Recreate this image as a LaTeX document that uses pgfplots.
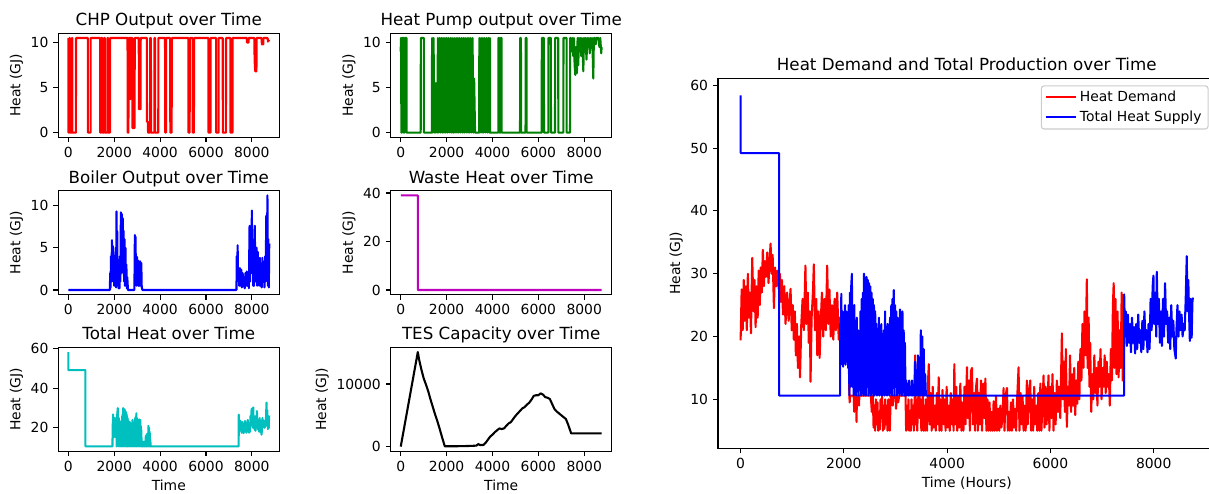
\documentclass[border=0pt]{standalone}
\usepackage{pgfplots}
\usepackage{pgfplotstable}
\usepackage{fontspec}
\setmainfont{DejaVu Sans}
\pgfplotsset{compat=1.18}
\newcommand\titlefont{\fontsize{16.7pt}{20pt}\selectfont}
\newcommand\tickfont{\fontsize{13.9pt}{16pt}\selectfont}
\definecolor{mplgreen}{rgb}{0,0.5,0}
\definecolor{mplmag}{rgb}{0.75,0,0.75}
\definecolor{mplcyan}{rgb}{0,0.75,0.75}

\pgfplotsset{
  mpl/.style={
    scale only axis,
    axis line style={line width=1.1pt},
    every tick/.style={line width=1.1pt, black},
    tick align=outside,
    major tick length=4.86pt,
    xtick pos=left, ytick pos=left,
    ticklabel style={font=\tickfont, inner sep=0pt},
    xticklabel shift=4.86pt, yticklabel shift=4.86pt,
    /pgf/number format/assume math mode=true,
    /pgf/number format/1000 sep={},
    scaled ticks=false,
    xmin=-438, xmax=9197,
    xtick={0,2000,4000,6000,8000},
    title style={font=\titlefont, at={(0.5,1)}, anchor=base, yshift=1.5pt, inner sep=0pt},
    label style={font=\tickfont},
    xlabel style={yshift=-5pt},
    ylabel style={yshift=4pt},
    every axis plot/.append style={line width=2.08pt, line join=round},
  },
  small/.style={mpl, width=221pt, height=104pt},
}

% heat demand (hours, GJ); the part after 7420 h lies under the supply line
\pgfplotstableread{
x y
0 19.4
20 27.5
40 21
60 29
80 22.5
100 28
120 21
140 30
160 23
180 27
200 20.5
225 32.5
250 24
270 29
290 21.5
310 28
330 23
350 30.5
370 25
390 31
410 27
430 33.8
450 28
470 32
490 29.5
516 33.4
540 28.5
560 32
580 34.8
600 30
620 33
645 24.5
665 31
690 28
710 30.5
740 27.5
760 30
780 25.5
800 29
820 23.5
845 28
870 22
900 27
930 22.5
967 27.6
990 21
1010 25
1030 19.5
1050 24
1070 17
1090 22
1110 15
1130 20
1150 13.5
1175 22
1200 26
1225 21
1255 31.3
1275 22
1300 27
1320 19
1340 24
1354 12.8
1375 23
1400 27
1418 31.5
1440 21
1465 26
1485 17
1510 24
1530 16.6
1550 22
1575 27
1600 20
1625 26
1650 21
1676 31.3
1700 22
1720 27.5
1745 20
1770 25
1795 19.5
1820 26
1845 21
1870 27
1900 19.5
1926 23
1940 18
1990 19
2050 18
2094 17
2106 10.6
2112 9.5
2120 10.6
2190 10.6
2200 8
2214 10.6
2238 10.6
2245 6.4
2252 10.6
2286 10.6
2292 9
2300 10.6
2334 10.6
2382 10.6
2426 10.6
2474 10.6
2522 10.6
2540 8
2560 10.6
2575 5.5
2590 9
2605 5
2620 10
2635 6
2650 9.5
2665 5
2680 8
2695 5.2
2710 10
2725 7
2740 10.5
2755 5
2770 9
2785 5.3
2800 10
2815 6
2830 9
2845 5
2860 10
2875 7
2890 5
2905 10.5
2930 10.6
2945 9
2960 10.6
3000 10.6
3010 8.5
3026 10.6
3050 9.5
3074 10.6
3122 10.6
3170 10.6
3194 10.6
3205 5
3220 9
3235 5.2
3250 10
3265 5
3280 8
3295 5
3310 10
3325 6
3340 9
3355 5
3370 10
3380 17
3392 6
3405 10
3420 5
3440 10
3455 16
3470 7
3485 10
3500 5
3515 9
3530 10.5
3545 5
3560 9
3575 5
3590 10
3600 9
3610 5
3630 13
3645 15.6
3660 6
3680 11
3700 5
3720 12
3740 5.5
3760 9
3780 5
3800 11
3820 6
3836 13.5
3850 5
3870 10
3890 5
3910 11.5
3930 6
3950 10
3970 5
3990 12
4010 5.5
4030 9
4050 5
4070 11
4090 6
4110 10
4125 5
4139 15.6
4155 6
4175 12
4195 5
4215 10.5
4235 5.5
4255 12.5
4275 5
4295 9.5
4315 5
4335 12
4355 6
4384 15.1
4400 7
4420 13
4440 5
4460 14.5
4480 15
4500 6
4520 11
4540 5
4560 12
4578 13.3
4595 5
4615 11
4635 6
4655 13
4675 5
4700 12.5
4720 7
4740 13.3
4760 5
4780 10
4800 5
4820 9.5
4840 5
4860 8
4880 5
4900 9.7
4920 5
4945 10.5
4965 5
4990 8.5
5010 5
5030 9
5050 5.5
5070 7
5093 11.8
5110 5
5130 10.5
5158 11.8
5175 5
5195 8
5215 5
5235 9.5
5255 5
5275 10
5295 5.5
5315 8.5
5335 5
5355 10
5383 15.1
5400 5
5420 11
5440 6
5460 10.5
5480 5
5500 9
5520 5
5544 13
5560 6
5585 11
5609 13
5625 5
5645 10
5665 5
5685 12
5705 6
5725 9
5745 5
5765 11
5785 5
5805 12.5
5825 5
5845 9
5867 13.8
5885 5.5
5905 12
5925 6
5945 10
5963 13.8
5980 5
6000 12
6020 7
6040 14
6060 5
6080 11
6100 6
6125 13
6145 8
6165 12
6190 7
6222 20.5
6240 10
6260 16
6280 8
6300 18
6318 5.6
6340 12
6360 9
6380 17
6400 8
6420 14
6440 9
6460 15
6480 7.5
6500 13
6520 9.3
6540 16
6560 10
6580 18
6600 13
6620 22
6640 15
6660 24
6680 17
6705 29.1
6720 15
6740 23
6755 12
6770 19
6790 8
6810 14
6830 10
6850 17
6870 11
6890 15
6910 9
6930 16
6950 12
6970 18
6990 10
7010 15
7030 12
7050 17
7070 11
7090 16
7110 12
7130 14
7150 9
7170 18
7190 13
7210 25
7225 28.5
7240 15
7260 26
7280 14
7300 24
7320 13.5
7340 21
7360 15
7380 27
7400 13
7414 26.7
}\demand

% total heat supply (hours, GJ)
\pgfplotstableread{
x y
0 58.4
1 49.2
744 49.2
745 10.6
1926 10.6
1928 22
1940 15.5
1950 26.8
1962 16
1974 24
1986 15.2
1998 23
2010 17
2022 25
2034 15.5
2046 24
2058 16
2070 21
2082 15
2094 25
2106 10.6
2118 27
2130 12
2142 28
2155 30
2166 12
2178 24
2190 10.6
2202 25
2214 14
2226 22
2238 10.6
2250 23
2262 13
2274 21
2286 10.6
2298 20
2310 12
2322 24
2334 10.6
2346 26
2358 11
2370 27
2382 10.6
2390 30
2402 11
2414 29
2426 10.6
2438 29.5
2450 12
2462 29
2474 10.6
2486 28.5
2498 11
2510 28
2522 10.6
2534 27
2546 11
2558 26
2570 10.6
2582 25
2594 10.6
2606 24
2618 11
2630 22
2642 10.6
2654 21
2666 11
2678 23
2690 10.6
2702 19
2714 12
2726 22
2738 10.6
2750 18
2762 11
2774 21
2786 10.6
2798 24
2810 11
2822 20
2834 10.6
2846 22
2858 12
2870 19
2882 10.6
2894 23
2906 11
2918 25
2930 10.6
2942 26
2954 12
2966 27.4
2978 10.6
2990 25
3002 12
3014 24
3026 10.6
3038 23
3050 11
3062 22
3074 10.6
3086 24.3
3098 11
3110 23
3122 10.6
3134 24
3146 12
3158 21
3170 10.6
3182 19
3194 10.6
3210 13
3222 10.6
3236 12.5
3250 10.6
3264 13
3278 10.6
3292 12
3306 10.6
3320 13
3334 10.6
3350 12
3365 10.6
3378 16
3392 10.6
3406 14
3420 10.6
3434 17
3448 10.6
3462 15
3476 10.6
3490 21
3504 10.6
3518 20
3532 10.6
3546 18
3560 10.6
3574 14
3588 10.6
7427 10.6
7428 26.7
7445 20
7460 24
7480 18.5
7500 23.5
7520 19
7540 22
7560 17.5
7580 23
7600 19
7620 21.5
7640 17.3
7660 22
7680 18
7700 23.5
7720 19
7740 21
7760 17.5
7780 22.5
7800 18
7820 24
7840 19.5
7860 21
7880 17.5
7900 22
7920 18
7940 26
7960 21
7980 28
7995 29.7
8010 22
8030 27
8050 20
8060 30.3
8080 22
8100 26
8120 19
8140 24
8160 18.5
8180 26
8200 20
8220 28.5
8240 22
8260 24
8280 19
8300 23
8320 18
8340 25
8360 20
8380 22.5
8400 18
8427 16.5
8440 21
8460 25
8480 20
8500 24
8520 21
8540 23.5
8560 20
8580 22
8600 21
8620 26
8640 32.8
8655 24
8670 29
8690 22
8700 19.3
8715 26
8735 19.8
8750 25.5
8759 26.2
}\supply

\pgfplotstableread{
x y
0 10.5
5 0
40 0
45 10.5
70 10.5
75 0
150 0
155 10.5
170 10.5
175 0
330 0
335 10.5
850 10.5
855 0
970 0
975 10.5
1385 10.5
1390 0
1440 0
1445 10.5
1480 10.5
1485 0
1560 0
1565 10.5
1590 10.5
1595 0
1700 0
1705 10.5
1730 10.5
1735 0
1815 0
1820 10.5
2580 10.5
2585 0
2620 0
2625 10.5
2700 10.5
2705 3.7
2710 10.5
2790 10.5
2795 0.5
2890 0.5
2895 10.5
3070 10.5
3075 2.6
3150 2.6
3155 10.5
3420 10.5
3425 1.2
3470 1.2
3475 0
3560 0
3565 10.5
3600 10.5
3605 0
3750 0
3755 10.5
3780 10.5
3785 0
3920 0
3925 10.5
4215 10.5
4220 0
4260 0
4265 10.5
4440 10.5
4445 0
4505 0
4510 10.5
5235 10.5
5240 0
5290 0
5295 10.5
5420 10.5
5425 0
5475 0
5480 10.5
6105 10.5
6110 0
6200 0
6205 10.5
6440 10.5
6445 0
6550 0
6555 10.5
6730 10.5
6735 0
6870 0
6875 10.5
7065 10.5
7070 0
7160 0
7165 10.5
7780 10.5
7785 10.0
7860 10.0
7865 10.5
8110 10.5
8120 8
8150 6.8
8200 6.8
8210 10.5
8430 10.5
8435 9.8
8500 9.8
8505 10.5
8690 10.5
8700 10.1
8759 10.3
}\chp

\pgfplotstableread{
x y
0 9
5 10.5
20 10.5
25 0
60 0
65 10.5
120 10.5
125 0
160 0
165 10.5
250 10.5
255 0
870 0
875 10.5
1005 10.5
1010 0
1360 0
1365 10.5
1400 0
1430 10.5
1470 0
1500 5.5
1530 0
1560 5.5
1590 0
1620 10.5
1660 0
1700 10.5
1740 0
1780 10.5
1820 0
1850 10.5
1890 0
1920 10.5
1960 0
2000 10.5
2040 0
2080 10.5
2120 0
2160 10.5
2200 0
2240 10.5
2280 0
2300 0
2330 10.5
2370 0
2410 10.5
2450 0
2490 10.5
2530 0
2570 10.5
2610 0
2650 10.5
2690 0
2730 10.5
2770 0
2810 10.5
2850 0
2890 10.5
2930 0
2970 10.5
3010 0
3050 10.5
3090 0
3130 10.5
3170 0
3200 6
3240 0
3420 0
3425 10.5
3460 0
3500 10.5
3540 0
3580 10.5
3620 0
3660 10.5
3700 0
3740 10.5
3780 0
3820 10.5
3860 0
3890 10.5
3895 0
4255 0
4260 10.5
4300 10.5
4305 0
4350 0
4355 10.5
4395 10.5
4400 0
5200 0
5205 10.5
5240 10.5
5245 0
5440 0
5445 10.5
5485 10.5
5490 0
6145 0
6150 10.5
6240 10.5
6245 0
6435 0
6440 10.5
6545 10.5
6550 0
6725 0
6730 10.5
6865 10.5
6870 0
7090 0
7095 10.5
7230 10.5
7235 0
7380 0
7385 10.5
7420 10.5
7450 9
7480 10.5
7520 8.5
7550 10.5
7580 7.5
7610 6.4
7640 9.5
7680 6.6
7710 10.5
7740 7.5
7770 10.5
7800 9
7830 10.5
7870 8.5
7900 10.5
7930 9
7960 6.8
7990 10.5
8020 9.5
8050 10.5
8100 8.1
8130 10.5
8170 9.5
8200 10.5
8240 8.8
8270 10.5
8310 9.6
8340 10.5
8370 8.5
8395 6.0
8420 10.5
8470 10.5
8500 9.8
8530 10.5
8580 10.5
8620 10.5
8660 9.5
8700 10.5
8740 8.8
8759 9.5
}\hp

\pgfplotstableread{
x y
0 0
1815 0
1820 2
1840 0.3
1860 4
1880 1
1900 5.9
1920 2
1940 5.2
1960 1
1980 4
2000 0.5
2020 3.5
2040 1
2060 5
2080 0.3
2100 9.3
2115 0.5
2130 7
2150 1
2170 3.5
2190 0.2
2210 2.5
2230 0.2
2250 4
2270 1
2290 9.2
2310 2
2330 9
2350 3
2370 8.5
2390 2
2410 7
2430 1
2450 6
2470 0.5
2490 5
2510 1
2530 3
2550 0.2
2570 1.5
2600 0
2880 0
2900 6.5
2915 1
2930 6.3
2945 2
2960 4
2975 0.5
3000 3.9
3020 1
3040 3.5
3060 0.5
3080 3.1
3100 0.5
3130 3.4
3150 0.5
3180 3.2
3200 0.3
3230 0
7330 0
7340 4
7360 1
7380 5.3
7400 1.5
7420 2.5
7450 0.5
7480 2.6
7510 0.5
7540 2.4
7570 0.3
7600 2
7630 0.5
7660 1.5
7690 0.2
7720 2
7750 0.5
7780 2.2
7810 0.5
7840 2
7870 0.2
7900 7.6
7920 1
7950 7.4
7980 2
8000 9.4
8020 3
8040 6
8060 0.5
8080 3
8100 0.5
8130 7.6
8150 1
8170 5
8190 2
8210 5
8230 0.5
8260 4.5
8280 1
8300 3
8320 0.5
8350 3.8
8370 0.5
8400 2.5
8430 0.3
8460 3.8
8490 1
8520 2.5
8550 0.3
8580 4
8600 1
8630 8.8
8650 2
8680 11.2
8700 0.5
8720 6
8740 0.3
8759 5.5
}\boiler

\pgfplotstableread{
x y
0 39
744 39
745 0
8759 0
}\waste

\pgfplotstableread{
x y
0 0
744 15100
800 13900
900 12300
1000 10900
1100 9900
1200 8800
1300 7500
1400 6300
1500 5100
1600 4000
1700 2800
1800 1500
1920 50
2400 50
3000 100
3300 150
3380 400
3450 250
3600 250
3700 600
3800 1100
3900 1600
4000 1900
4100 2300
4200 2600
4300 2900
4400 2800
4500 2900
4600 3300
4700 3700
4800 3900
4900 4400
5000 4900
5100 5300
5200 5700
5300 6100
5400 6300
5500 6700
5600 7000
5700 7500
5800 8100
5900 8200
6000 8200
6100 8500
6200 8300
6300 7900
6400 7800
6500 7600
6600 6800
6700 6000
6800 5600
6900 5300
7000 5000
7100 4700
7200 4400
7300 3500
7430 2100
8759 2100
}\tes

\begin{document}
\begin{tikzpicture}
\useasboundingbox (0,0) rectangle (1209pt,493pt);

% row 1
\begin{axis}[small, at={(58.3pt,355.7pt)}, anchor=south west,
  ymin=-0.525, ymax=11.025, ytick={0,5,10},
  title={CHP Output over Time}, ylabel={Heat (GJ)}]
\addplot[red] table[x=x,y=y] {\chp};
\end{axis}
\begin{axis}[small, at={(390.7pt,355.7pt)}, anchor=south west,
  ymin=-0.525, ymax=11.025, ytick={0,5,10},
  title={Heat Pump output over Time}, ylabel={Heat (GJ)}]
\addplot[mplgreen] table[x=x,y=y] {\hp};
\end{axis}

% row 2
\begin{axis}[small, at={(58.3pt,198.3pt)}, anchor=south west,
  ymin=-0.56, ymax=11.76, ytick={0,5,10},
  title={Boiler Output over Time}, ylabel={Heat (GJ)}]
\addplot[blue] table[x=x,y=y] {\boiler};
\end{axis}
\begin{axis}[small, at={(390.7pt,198.3pt)}, anchor=south west,
  ymin=-1.95, ymax=40.95, ytick={0,20,40},
  title={Waste Heat over Time}, ylabel={Heat (GJ)}]
\addplot[mplmag] table[x=x,y=y] {\waste};
\end{axis}

% row 3
\begin{axis}[small, at={(58.3pt,41.7pt)}, anchor=south west,
  ymin=8.1, ymax=60.8, ytick={20,40,60},
  title={Total Heat over Time}, ylabel={Heat (GJ)}, xlabel={Time}]
\addplot[mplcyan] table[x=x,y=y] {\supply};
\end{axis}
\begin{axis}[small, at={(390.7pt,41.7pt)}, anchor=south west,
  ymin=-755, ymax=15855, ytick={0,10000},
  title={TES Capacity over Time}, ylabel={Heat (GJ)}, xlabel={Time}]
\addplot[black] table[x=x,y=y] {\tes};
\end{axis}

% big panel
\begin{axis}[mpl, width=497.5pt, height=369.9pt,
  at={(718pt,44.7pt)}, anchor=south west,
  ymin=2.2, ymax=61.1, ytick={10,20,30,40,50,60},
  title={Heat Demand and Total Production over Time},
  xlabel={Time (Hours)}, ylabel={Heat (GJ)},
  legend style={at={(1,1)}, anchor=north east, xshift=-6.9pt, yshift=-6.9pt,
    draw=black!20, line width=1.1pt, rounded corners=2.8pt, fill=white,
    font=\tickfont, inner xsep=4pt, inner ysep=3pt, row sep=3pt,
    nodes={inner sep=2.5pt}},
  legend cell align=left,
  legend image code/.code={\draw[#1] (0pt,0pt) -- (30pt,0pt);}]
\addplot[red] table[x=x,y=y] {\demand};
\addplot[blue] table[x=x,y=y] {\supply};
\legend{Heat Demand,Total Heat Supply}
\end{axis}
\end{tikzpicture}
\end{document}
